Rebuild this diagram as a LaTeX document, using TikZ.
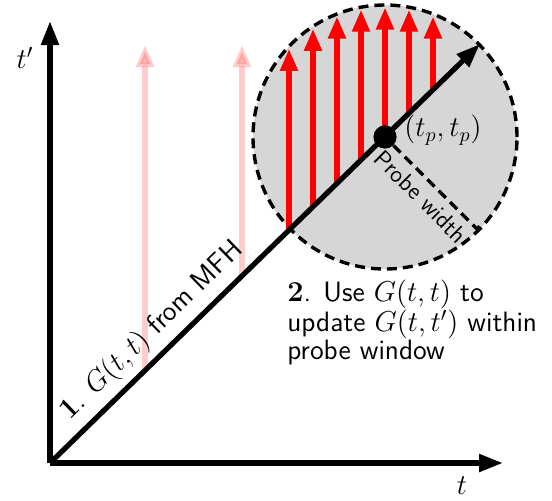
\documentclass[tikz,border=0pt]{standalone}
\usepackage{amsmath}
\usetikzlibrary{arrows.meta,calc}

\begin{document}
\begin{tikzpicture}[x=0.5pt,y=-0.5pt]
	\tikzset{axis/.style={line width=2.6pt,-{Triangle[length=12pt,width=8.5pt]}},
		probe/.style={red,line width=2.6pt,-{Triangle[length=11pt,width=8.5pt]}},
		oldprobe/.style={probe,opacity=0.2},
		window/.style={line width=1.7pt,dash pattern=on 5pt off 3pt},
		every node/.style={font=\sffamily\fontsize{14}{13.8}\selectfont}}
	\useasboundingbox (0,0) rectangle (552,500);
	\coordinate (O) at (50,463);
	\coordinate (D) at (480,44);
	\coordinate (tp) at (385,137);
	\coordinate (pw) at (477,229);
	\fill[black!16] (tp) circle[radius=66pt];
	\draw[window] (tp) circle[radius=66pt];
	\foreach \x [count=\i] in {145,242}{
		\coordinate (a\i) at (\x,{463-(\x-50)*0.9744});
		\coordinate (c\i) at (\x,45);
		\draw[oldprobe] (a\i) -- (c\i);
	}
	\foreach \i in {0,...,6}{
		\pgfmathsetmacro\xa{289+24*\i}
		\pgfmathsetmacro\ya{463-(\xa-50)*0.9744}
		\pgfmathsetmacro\yb{137-100*sqrt(1.32^2-((\xa-385)/100)^2)+2.5}
		\coordinate (b\i) at (\xa,\ya);
		\coordinate (e\i) at (\xa,\yb);
		\draw[probe] (b\i) -- (e\i);
	}
	\draw[axis] (O) -- (50,21) coordinate (ty);
	\draw[axis] (O) -- (503,463) coordinate (tx);
	\draw[axis] (O) -- (D) node[pos=0.275,above,sloped]{$\mathbf{1}$. $G(t,t)$ from MFH};
	\draw[window] ($(tp)!6pt!(pw)$) -- (pw) node[pos=0.47,below,sloped,font=\sffamily\fontsize{12}{12}\selectfont]{Probe width} -- ++(6,-6);
	\fill (tp) circle[radius=5.8pt];
	\node (tplab) at (443,130) {$(t_p,t_p)$};
	\node (tylab) at (25,58) {$t'$};
	\node (txlab) at (462,486) {$t$};
	\node[anchor=north west,align=left,inner sep=0pt] (step2) at (287,279) {$\mathbf{2}$. Use $G(t,t)$ to\\update $G(t,t')$ within\\probe window};
\end{tikzpicture}
\end{document}
